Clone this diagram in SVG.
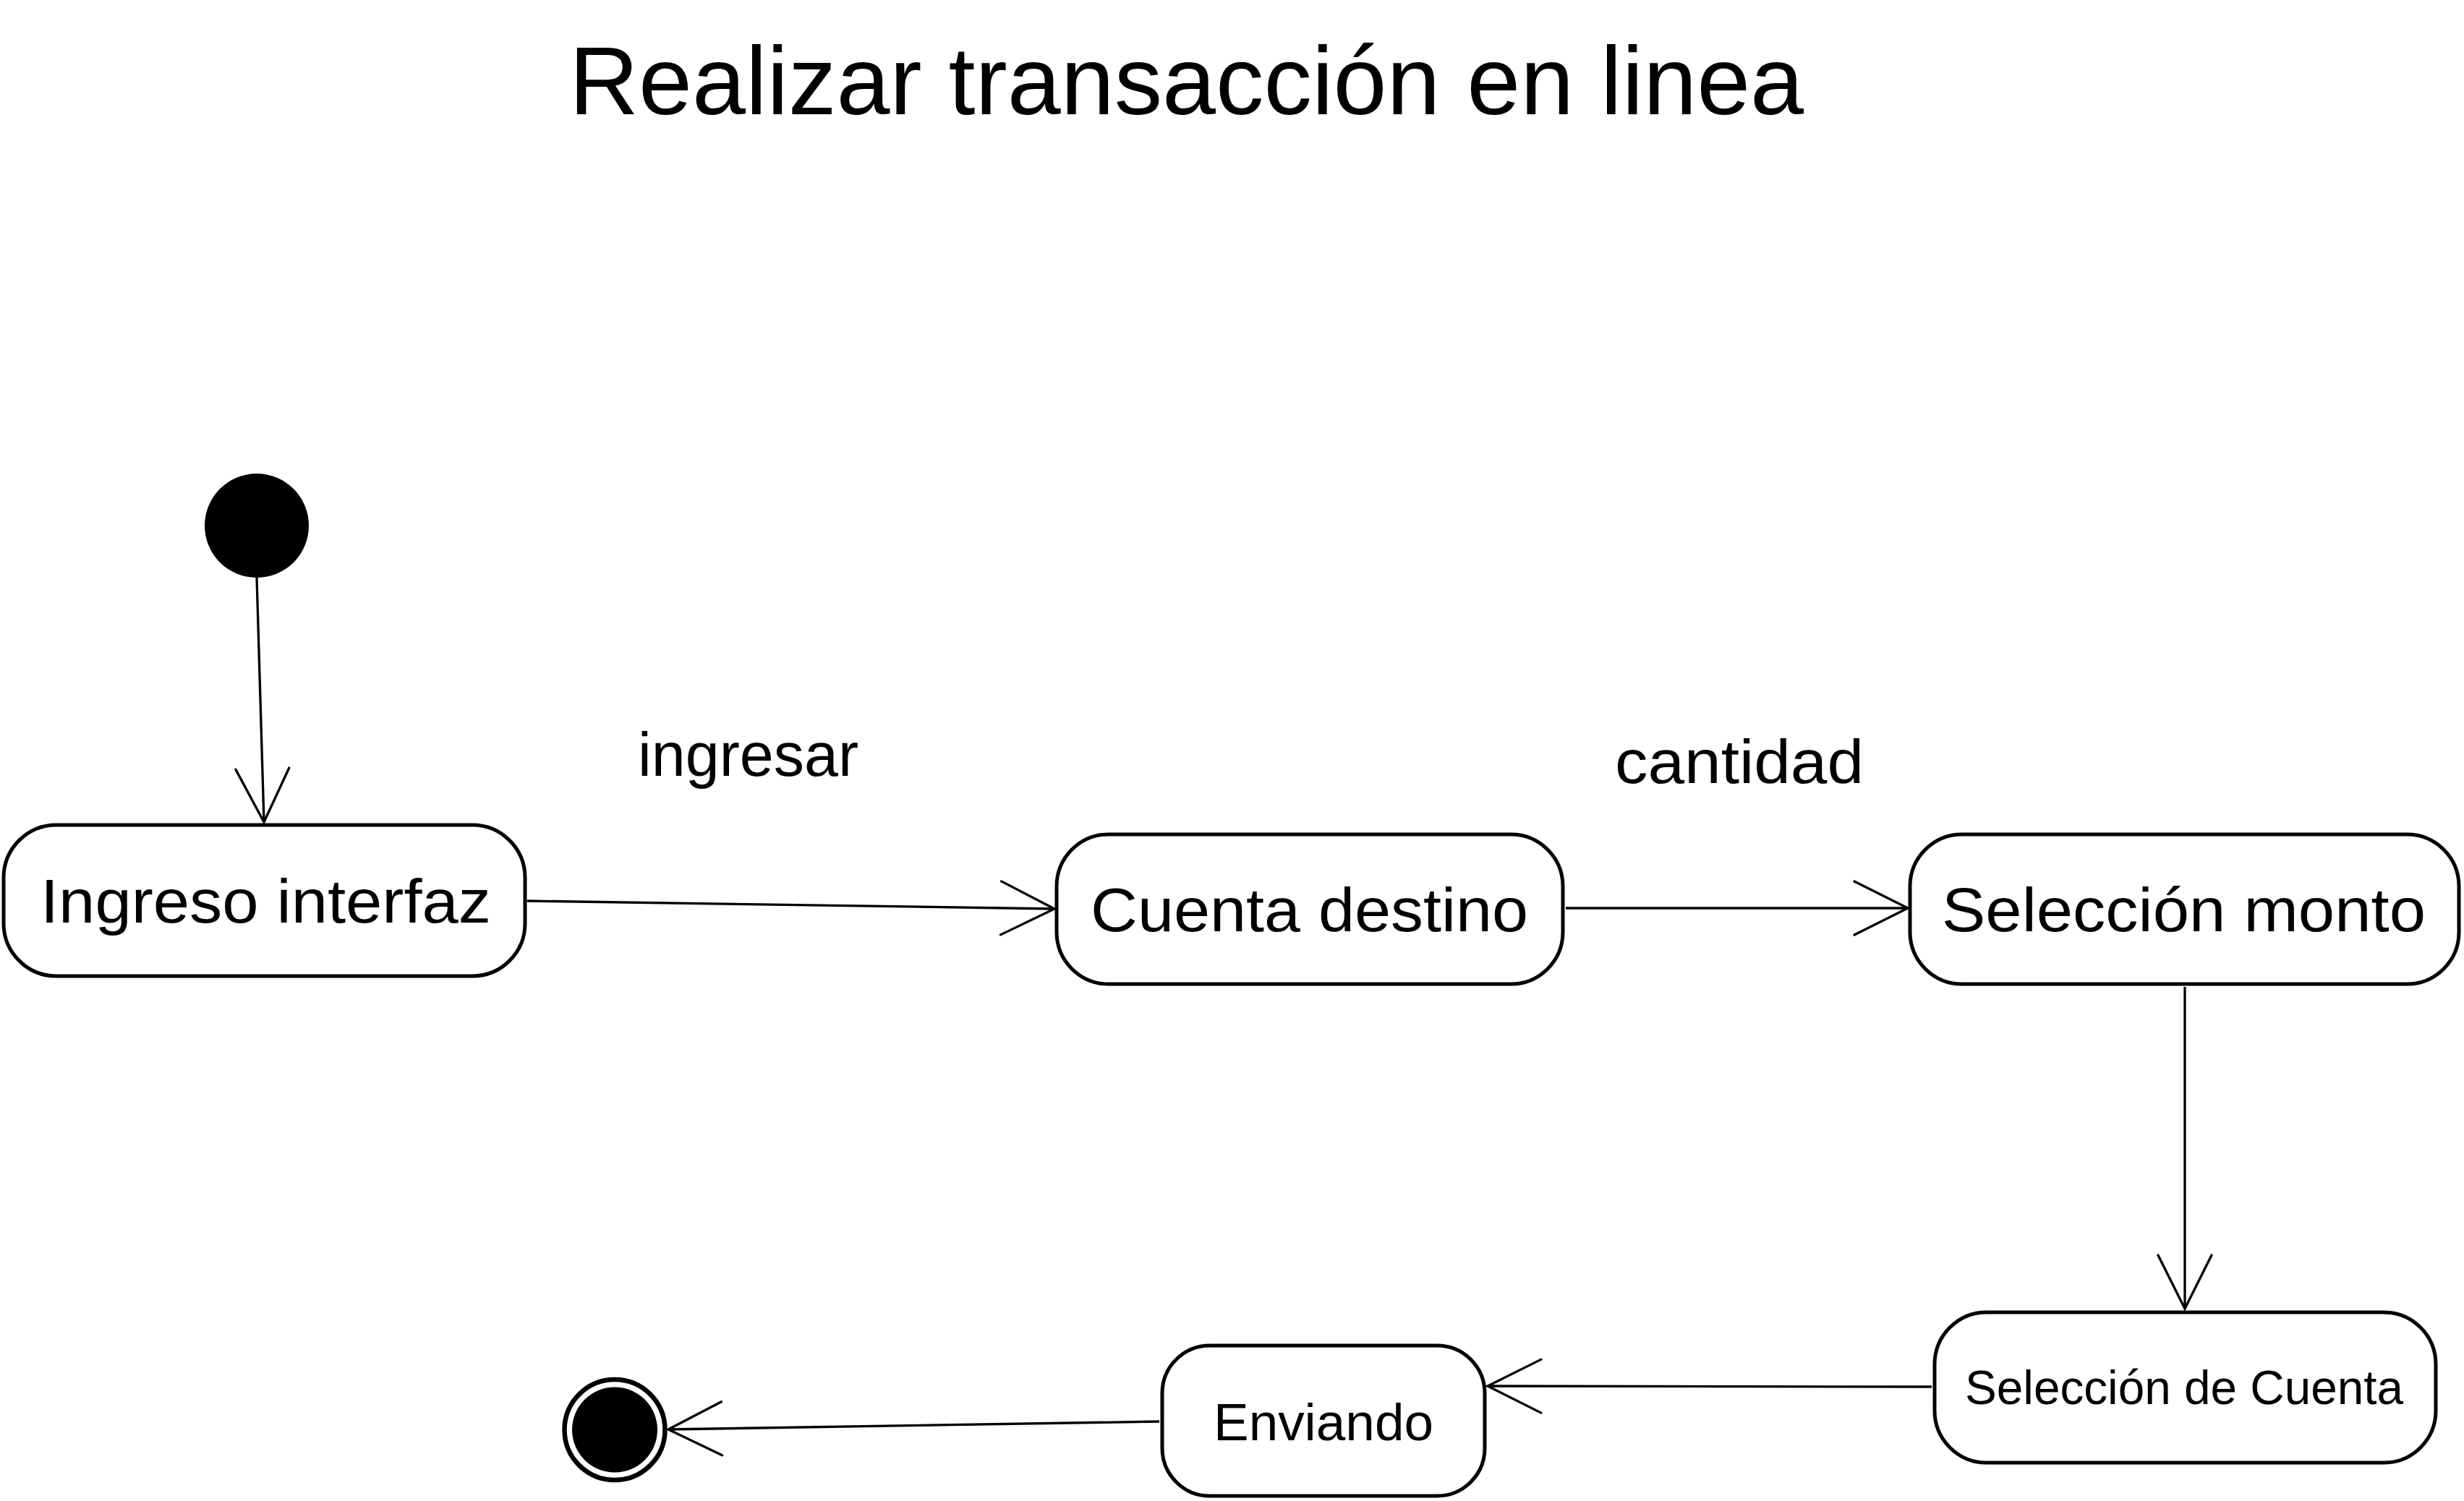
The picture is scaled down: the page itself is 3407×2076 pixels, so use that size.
<svg xmlns="http://www.w3.org/2000/svg" width="3407" height="2076" viewBox="0 0 3407 2076">
<style>
.state{fill:#fff;stroke:#000;stroke-width:5}
.lbl{font-family:"Liberation Sans",Arial,sans-serif;fill:#000}
.conn{fill:none;stroke:#000;stroke-width:3.3}
</style>
<defs>
<marker id="open" viewBox="-80 -42 84 84" refX="0" refY="0" markerWidth="84" markerHeight="84" markerUnits="userSpaceOnUse" orient="auto" overflow="visible">
<path d="M-74,-37 L0,0 L-74,37" fill="none" stroke="#000" stroke-width="3.3" stroke-linecap="round"/>
</marker>
</defs>
<rect width="3407" height="2076" fill="#fff"/>
<text class="lbl" x="787" y="158" font-size="133" textLength="1707" lengthAdjust="spacingAndGlyphs">Realizar transacción en linea</text>
<g id="connectors">
<line class="conn" x1="355" y1="799" x2="365" y2="1137" marker-end="url(#open)"/>
<line class="conn" x1="729" y1="1246" x2="1458" y2="1257" marker-end="url(#open)"/>
<line class="conn" x1="2165" y1="1256" x2="2638" y2="1256" marker-end="url(#open)"/>
<line class="conn" x1="3021" y1="1365" x2="3021" y2="1810" marker-end="url(#open)"/>
<line class="conn" x1="2671" y1="1918" x2="2057" y2="1917" marker-end="url(#open)"/>
<line class="conn" x1="1603" y1="1966" x2="924" y2="1977" marker-end="url(#open)"/>
<text class="lbl" x="882" y="1073" font-size="86" textLength="305" lengthAdjust="spacingAndGlyphs">ingresar</text>
<text class="lbl" x="2233" y="1083" font-size="86" textLength="344" lengthAdjust="spacingAndGlyphs">cantidad</text>
</g>
<g id="initial">
<circle cx="355" cy="727" r="72" fill="#000"/>
</g>
<g id="ingreso-interfaz">
<rect class="state" x="5" y="1141" width="721" height="209" rx="73" ry="73"/>
<text class="lbl" x="56" y="1276" font-size="86" textLength="623" lengthAdjust="spacingAndGlyphs">Ingreso interfaz</text>
</g>
<g id="cuenta-destino">
<rect class="state" x="1461" y="1154" width="700" height="207" rx="72" ry="72"/>
<text class="lbl" x="1508" y="1288" font-size="86" textLength="605" lengthAdjust="spacingAndGlyphs">Cuenta destino</text>
</g>
<g id="seleccion-monto">
<rect class="state" x="2641" y="1154" width="759" height="207" rx="72" ry="72"/>
<text class="lbl" x="2685" y="1288" font-size="86" textLength="669" lengthAdjust="spacingAndGlyphs">Selección monto</text>
</g>
<g id="seleccion-cuenta">
<rect class="state" x="2675" y="1815" width="693" height="208" rx="72" ry="72"/>
<text class="lbl" x="2717" y="1942" font-size="66" textLength="606" lengthAdjust="spacingAndGlyphs">Selección de Cuenta</text>
</g>
<g id="enviando">
<rect class="state" x="1607" y="1861" width="446" height="208" rx="66" ry="66"/>
<text class="lbl" x="1678" y="1992" font-size="73" textLength="304" lengthAdjust="spacingAndGlyphs">Enviando</text>
</g>
<g id="final">
<circle cx="850" cy="1977.5" r="69.5" fill="#fff" stroke="#000" stroke-width="6.5"/>
<circle cx="850" cy="1977.5" r="59" fill="#000"/>
</g>
</svg>
